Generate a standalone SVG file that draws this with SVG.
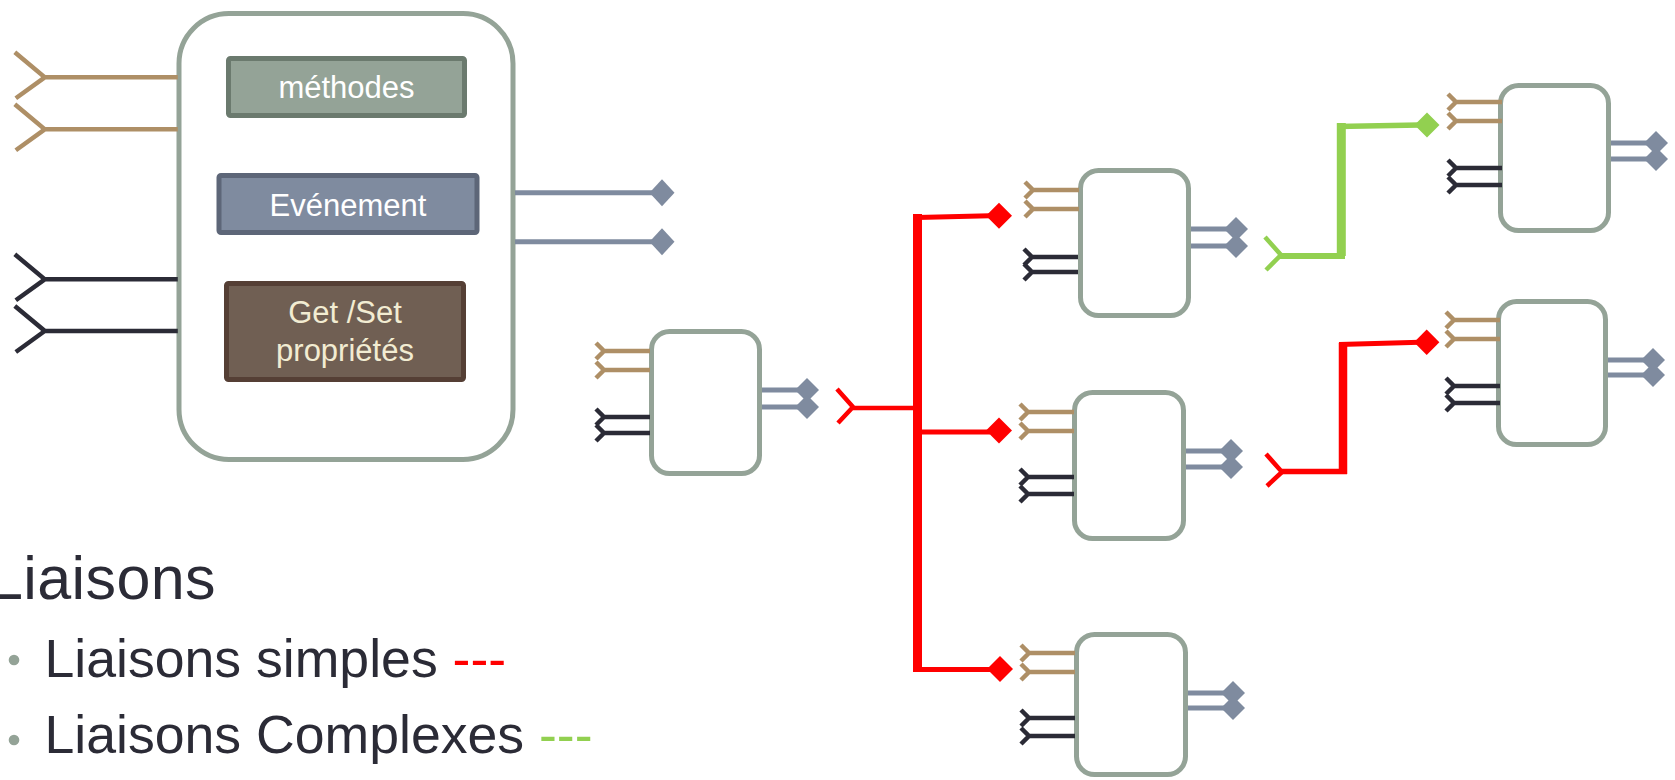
<svg xmlns="http://www.w3.org/2000/svg" xmlns:xlink="http://www.w3.org/1999/xlink" width="1675" height="780" viewBox="0 0 1675 780">
<style>
.frame{fill:#fff;stroke:#94a397;stroke-width:5}
.tan{stroke:#ae8f66;stroke-width:4.5;fill:none}
.dark{stroke:#2b2b36;stroke-width:4.5;fill:none}
.blue{stroke:#7f8b9f;stroke-width:5;fill:#7f8b9f}
.lbl{font-family:"Liberation Sans",Arial,sans-serif;font-size:31px;text-anchor:middle}
.txt{font-family:"Liberation Sans",Arial,sans-serif;fill:#2b2b36}
.red{stroke:#ff0000;fill:none}
.green{stroke:#92d050;fill:none}
</style>
<defs>
<path id="fin" d="M-8,-8L0,0L-8,8M0,0H46"/>
<g id="fout"><path d="M0,0H40" fill="none"/><path d="M33,0L45,-12L57,0L45,12Z" stroke="none"/></g>
<path id="bigfin" d="M-30,-25L0,0L-29,21M0,0H133"/>
</defs>

<g id="component">
<rect class="frame" x="179" y="13.5" width="334" height="446" rx="50"/>
<use href="#bigfin" x="44.8" y="77.3" class="tan"/>
<use href="#bigfin" x="44.8" y="129.3" class="tan"/>
<use href="#bigfin" x="44.8" y="279.3" class="dark"/>
<use href="#bigfin" x="44.8" y="331" class="dark"/>
<path class="blue" d="M515,192.7H655" fill="none"/>
<path d="M649.5,192.7L662,179.2L674.5,192.7L662,206.2Z" fill="#7f8b9f"/>
<path class="blue" d="M515,241.7H655" fill="none"/>
<path d="M649.5,241.7L662,228.2L674.5,241.7L662,255.2Z" fill="#7f8b9f"/>
<g id="methodes">
<rect x="228.5" y="58.5" width="236" height="57" rx="2" fill="#94a397" stroke="#6b7a6e" stroke-width="5"/>
<text class="lbl" x="346.5" y="97.7" fill="#ffffff">méthodes</text>
</g>
<g id="evenement">
<rect x="219" y="175.5" width="258" height="57" rx="2" fill="#7f8b9f" stroke="#5d6678" stroke-width="5"/>
<text class="lbl" x="348" y="216" fill="#ffffff">Evénement</text>
</g>
<g id="getset">
<rect x="226.5" y="283.5" width="237" height="96" rx="2" fill="#705f53" stroke="#553f35" stroke-width="5"/>
<text class="lbl" x="345" y="322.7" fill="#f2ecd2">Get /Set</text>
<text class="lbl" x="345" y="360.7" fill="#f2ecd2">propriétés</text>
</g>
</g>

<g id="node1">
<rect class="frame" x="651.5" y="331.5" width="108" height="142" rx="18"/>
<use href="#fin" x="604" y="351" class="tan"/>
<use href="#fin" x="604" y="370" class="tan"/>
<use href="#fin" x="604" y="417" class="dark"/>
<use href="#fin" x="604" y="433" class="dark"/>
<use href="#fout" x="762" y="390" class="blue"/>
<use href="#fout" x="762" y="407" class="blue"/>
</g>

<g id="nodeA">
<rect class="frame" x="1080.5" y="170.5" width="108" height="145" rx="18"/>
<use href="#fin" x="1033" y="190" class="tan"/>
<use href="#fin" x="1033" y="209" class="tan"/>
<use href="#fin" x="1032" y="257" class="dark"/>
<use href="#fin" x="1032" y="272" class="dark"/>
<use href="#fout" x="1191" y="229" class="blue"/>
<use href="#fout" x="1191" y="246" class="blue"/>
</g>

<g id="nodeB">
<rect class="frame" x="1074.5" y="392.5" width="109" height="146" rx="18"/>
<use href="#fin" x="1028" y="412" class="tan"/>
<use href="#fin" x="1028" y="431" class="tan"/>
<use href="#fin" x="1028" y="477" class="dark"/>
<use href="#fin" x="1028" y="494" class="dark"/>
<use href="#fout" x="1186" y="451" class="blue"/>
<use href="#fout" x="1186" y="467" class="blue"/>
</g>

<g id="nodeC">
<rect class="frame" x="1076.5" y="634.5" width="109" height="140" rx="18"/>
<use href="#fin" x="1029" y="653" class="tan"/>
<use href="#fin" x="1029" y="672" class="tan"/>
<use href="#fin" x="1029" y="718" class="dark"/>
<use href="#fin" x="1029" y="736" class="dark"/>
<use href="#fout" x="1188" y="693" class="blue"/>
<use href="#fout" x="1188" y="708" class="blue"/>
</g>

<g id="nodeD">
<rect class="frame" x="1500.5" y="85.5" width="108" height="145" rx="18"/>
<use href="#fin" x="1456" y="102" class="tan"/>
<use href="#fin" x="1456" y="121" class="tan"/>
<use href="#fin" x="1456" y="168" class="dark"/>
<use href="#fin" x="1456" y="185" class="dark"/>
<use href="#fout" x="1611" y="143" class="blue"/>
<use href="#fout" x="1611" y="159" class="blue"/>
</g>

<g id="nodeE">
<rect class="frame" x="1498.5" y="301.5" width="107" height="143" rx="18"/>
<use href="#fin" x="1454" y="320" class="tan"/>
<use href="#fin" x="1454" y="339" class="tan"/>
<use href="#fin" x="1454" y="386" class="dark"/>
<use href="#fin" x="1454" y="403" class="dark"/>
<use href="#fout" x="1608" y="360" class="blue"/>
<use href="#fout" x="1608" y="375" class="blue"/>
</g>

<g id="connectors">
<g id="simple1">
<path class="red" stroke-width="4.5" d="M837,389L853,407L838,423M853,408H917"/>
<path class="red" stroke-width="9" d="M917.5,214V672"/>
<path class="red" stroke-width="5" d="M917,217.5L990,215.7M917,432H990M917,669.5H990"/>
<path d="M986,215.7L999,202.7L1012,215.7L999,228.7Z" fill="#ff0000"/>
<path d="M986,430.5L999,417.5L1012,430.5L999,443.5Z" fill="#ff0000"/>
<path d="M987,669L1000,656L1013,669L1000,682Z" fill="#ff0000"/>
</g>
<g id="complex1">
<path class="green" stroke-width="4.5" d="M1265,237L1281,255L1266,270"/>
<path class="green" stroke-width="6" d="M1280,256H1345"/>
<path class="green" stroke-width="9" d="M1341.3,123V256"/>
<path class="green" stroke-width="5.5" d="M1337,126.5L1420,125"/>
<path d="M1414.5,125L1427,112.5L1439.5,125L1427,137.5Z" fill="#92d050"/>
</g>
<g id="simple2">
<path class="red" stroke-width="4.5" d="M1266,454L1282,472L1267,486"/>
<path class="red" stroke-width="5.5" d="M1282,471.5H1347"/>
<path class="red" stroke-width="8.5" d="M1343,343V474"/>
<path class="red" stroke-width="5" d="M1339,344.5L1420,342.3"/>
<path d="M1414,342.3L1426.7,329.6L1439.4,342.3L1426.7,355Z" fill="#ff0000"/>
</g>
</g>

<g id="legend">
<text class="txt" x="-11" y="599" font-size="61" letter-spacing="0.4">Liaisons</text>
<circle cx="14" cy="660" r="5.3" fill="#94a397"/>
<text class="txt" x="44.5" y="677" font-size="53.6">Liaisons simples <tspan fill="#ff0000">---</tspan></text>
<circle cx="14" cy="740" r="5.3" fill="#94a397"/>
<text class="txt" x="44.5" y="753" font-size="53.6">Liaisons Complexes <tspan fill="#92d050">---</tspan></text>
</g>
</svg>
